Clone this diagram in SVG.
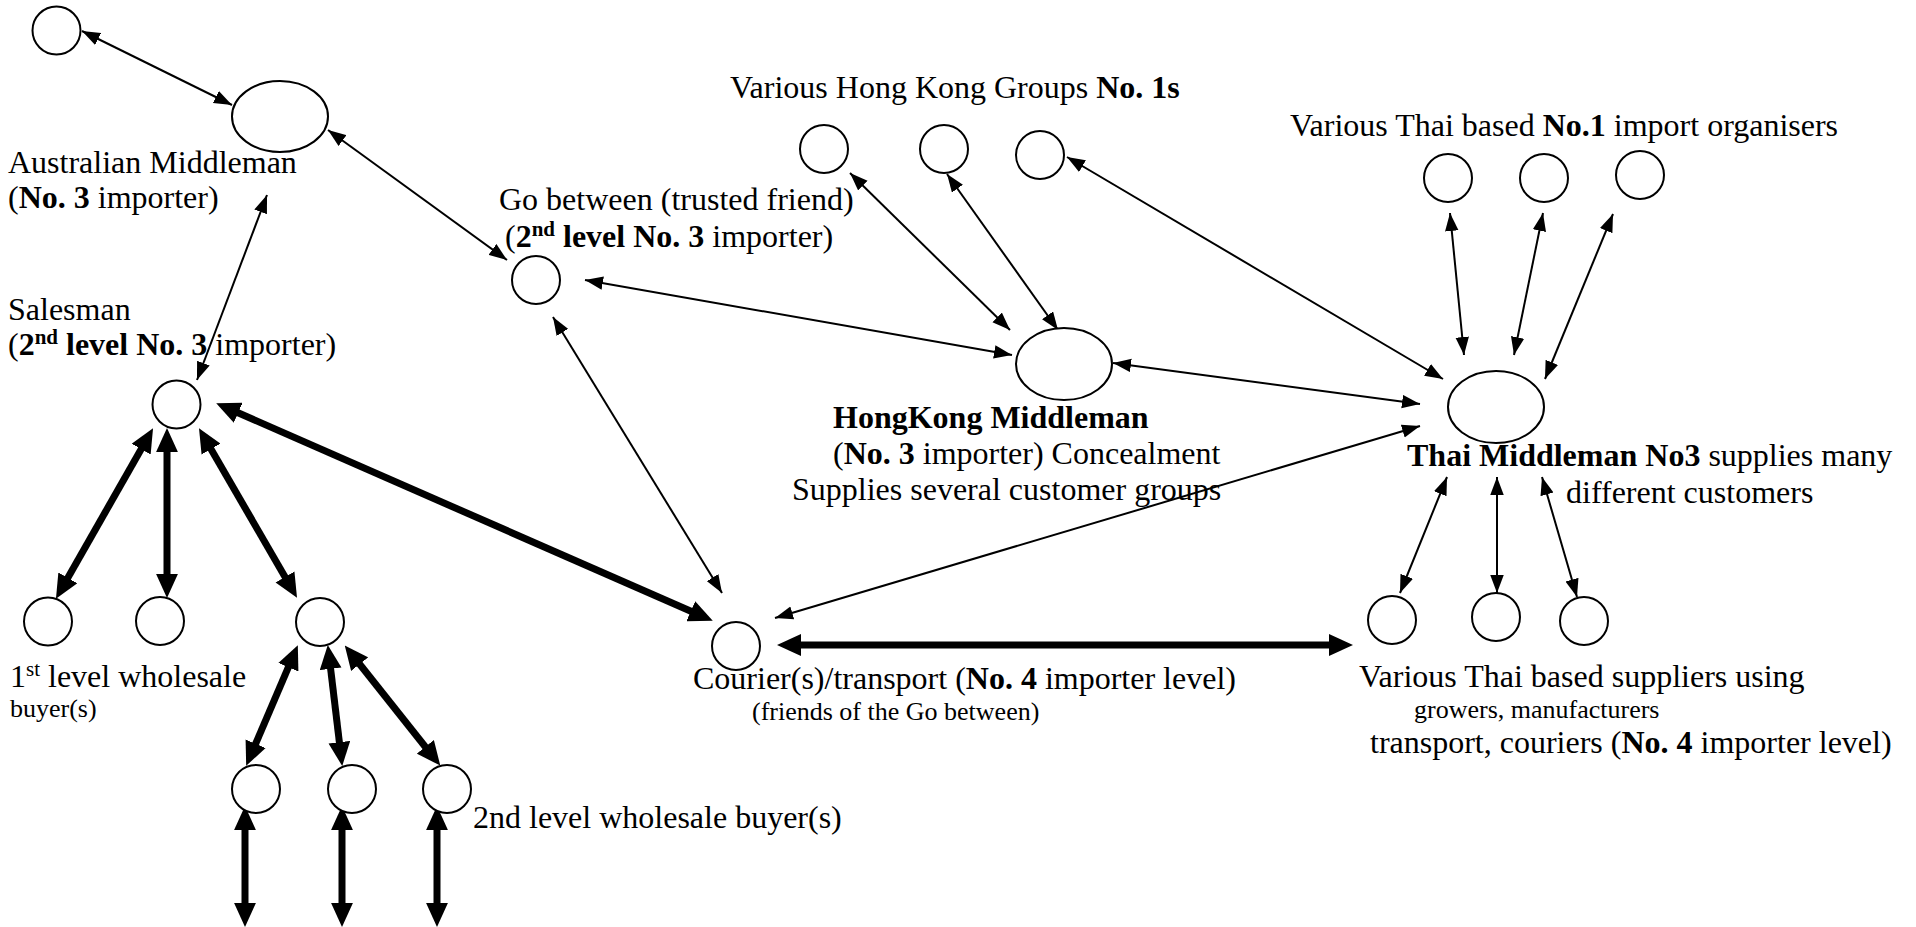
<svg xmlns="http://www.w3.org/2000/svg" width="1916" height="927" viewBox="0 0 1916 927">
<style>
.n{fill:#fff;stroke:#000;stroke-width:2}
.t{font-family:"Liberation Serif","Times New Roman",serif;font-size:32px;fill:#000}
.s{font-size:26px}
.b{font-weight:bold}
.thin{stroke:#000;stroke-width:2;fill:none;marker-start:url(#ah);marker-end:url(#ah)}
.thick{stroke:#000;stroke-width:7;fill:none;marker-start:url(#ahb);marker-end:url(#ahb)}
</style>
<defs>
<marker id="ah" markerUnits="userSpaceOnUse" markerWidth="18" markerHeight="14" viewBox="0 0 16 12" refX="16" refY="6" orient="auto-start-reverse"><path d="M0,0 L16,6 L0,12 z" fill="#000"/></marker>
<marker id="ahb" markerUnits="userSpaceOnUse" markerWidth="24" markerHeight="22" viewBox="0 0 22 20" refX="11" refY="10" orient="auto-start-reverse"><path d="M0,0 L22,10 L0,20 z" fill="#000"/></marker>
</defs>
<rect width="1916" height="927" fill="#fff"/>
<g id="connectors">
<line class="thin" x1="82" y1="31" x2="232" y2="105"/>
<line class="thin" x1="328" y1="130" x2="507" y2="260"/>
<line class="thin" x1="267" y1="195" x2="197" y2="380"/>
<line class="thin" x1="585" y1="280" x2="1012" y2="355"/>
<line class="thin" x1="553" y1="317" x2="722" y2="593"/>
<line class="thin" x1="850" y1="173" x2="1010" y2="330"/>
<line class="thin" x1="947" y1="174" x2="1058" y2="330"/>
<line class="thin" x1="1067" y1="157" x2="1443" y2="379"/>
<line class="thin" x1="1113" y1="363" x2="1420" y2="404"/>
<line class="thin" x1="775" y1="618" x2="1420" y2="426"/>
<line class="thin" x1="1450" y1="213" x2="1464" y2="355"/>
<line class="thin" x1="1543" y1="213" x2="1514" y2="355"/>
<line class="thin" x1="1613" y1="214" x2="1545" y2="379"/>
<line class="thin" x1="1447" y1="477" x2="1400" y2="593"/>
<line class="thin" x1="1497" y1="477" x2="1497" y2="593"/>
<line class="thin" x1="1542" y1="477" x2="1577" y2="597"/>
<line class="thick" x1="147.1" y1="438.7" x2="61.9" y2="588.3"/>
<line class="thick" x1="167" y1="440" x2="167" y2="586"/>
<line class="thick" x1="205" y1="438.7" x2="291" y2="587.3"/>
<line class="thick" x1="293.1" y1="656.2" x2="250.9" y2="754.8"/>
<line class="thick" x1="329.2" y1="656.9" x2="340.8" y2="754.1"/>
<line class="thick" x1="352.2" y1="654.8" x2="432.8" y2="756.2"/>
<line class="thick" x1="245" y1="818" x2="245" y2="915"/>
<line class="thick" x1="342" y1="818" x2="342" y2="915"/>
<line class="thick" x1="437" y1="818" x2="437" y2="915"/>
<line class="thick" x1="227.2" y1="408" x2="701.8" y2="616"/>
<line class="thick" x1="789" y1="645" x2="1341" y2="645"/>
</g>
<g id="top-contact"><circle class="n" cx="56.5" cy="30.5" r="24"/></g>
<g id="australian-middleman">
<ellipse class="n" cx="280" cy="116.5" rx="48" ry="35.5"/>
<text class="t" x="8" y="173">Australian Middleman</text>
<text class="t" x="8" y="208">(<tspan class="b">No. 3</tspan> importer)</text>
</g>
<g id="salesman">
<circle class="n" cx="176.5" cy="404.5" r="24"/>
<text class="t" x="8" y="320">Salesman</text>
<text class="t" x="8" y="355">(<tspan class="b">2</tspan><tspan class="b" font-size="21" dy="-11">nd</tspan><tspan class="b" dy="11"> level No. 3</tspan> importer)</text>
</g>
<g id="go-between">
<circle class="n" cx="536" cy="280" r="24"/>
<text class="t" x="499" y="210">Go between (trusted friend)</text>
<text class="t" x="505" y="247">(<tspan class="b">2</tspan><tspan class="b" font-size="21" dy="-11">nd</tspan><tspan class="b" dy="11"> level No. 3</tspan> importer)</text>
</g>
<g id="hk-groups">
<circle class="n" cx="824" cy="149" r="24"/>
<circle class="n" cx="944" cy="149" r="24"/>
<circle class="n" cx="1040" cy="155" r="24"/>
<text class="t" x="730" y="98">Various Hong Kong Groups <tspan class="b">No. 1s</tspan></text>
</g>
<g id="hk-middleman">
<ellipse class="n" cx="1064" cy="364" rx="48" ry="36"/>
<text class="t b" x="833" y="428">HongKong Middleman</text>
<text class="t" x="833" y="464">(<tspan class="b">No. 3</tspan> importer) Concealment</text>
<text class="t" x="792" y="500">Supplies several customer groups</text>
</g>
<g id="thai-organisers">
<circle class="n" cx="1448" cy="178" r="24"/>
<circle class="n" cx="1544" cy="178" r="24"/>
<circle class="n" cx="1640" cy="175" r="24"/>
<text class="t" x="1290" y="136">Various Thai based <tspan class="b">No.1</tspan> import organisers</text>
</g>
<g id="thai-middleman">
<ellipse class="n" cx="1496" cy="407" rx="48" ry="36"/>
<text class="t" x="1407" y="466"><tspan class="b">Thai Middleman No3</tspan> supplies many</text>
<text class="t" x="1566" y="503">different customers</text>
</g>
<g id="first-level-buyers">
<circle class="n" cx="48" cy="621.5" r="24"/>
<circle class="n" cx="160" cy="621" r="24"/>
<circle class="n" cx="320" cy="622" r="24"/>
<text class="t" x="10" y="687">1<tspan font-size="21" dy="-11">st</tspan><tspan dy="11"> level wholesale</tspan></text>
<text class="t s" x="10" y="717">buyer(s)</text>
</g>
<g id="second-level-buyers">
<circle class="n" cx="256" cy="789" r="24"/>
<circle class="n" cx="352" cy="789" r="24"/>
<circle class="n" cx="447" cy="789" r="24"/>
<text class="t" x="473" y="828">2nd level wholesale buyer(s)</text>
</g>
<g id="courier">
<circle class="n" cx="736" cy="646" r="24"/>
<text class="t" x="693" y="689">Courier(s)/transport (<tspan class="b">No. 4</tspan> importer level)</text>
<text class="t s" x="752" y="720">(friends of the Go between)</text>
</g>
<g id="thai-suppliers">
<circle class="n" cx="1392" cy="620" r="24"/>
<circle class="n" cx="1496" cy="617" r="24"/>
<circle class="n" cx="1584" cy="621" r="24"/>
<text class="t" x="1359" y="687">Various Thai based suppliers using</text>
<text class="t s" x="1414" y="718">growers, manufacturers</text>
<text class="t" x="1370" y="753">transport, couriers (<tspan class="b">No. 4</tspan> importer level)</text>
</g>
</svg>
